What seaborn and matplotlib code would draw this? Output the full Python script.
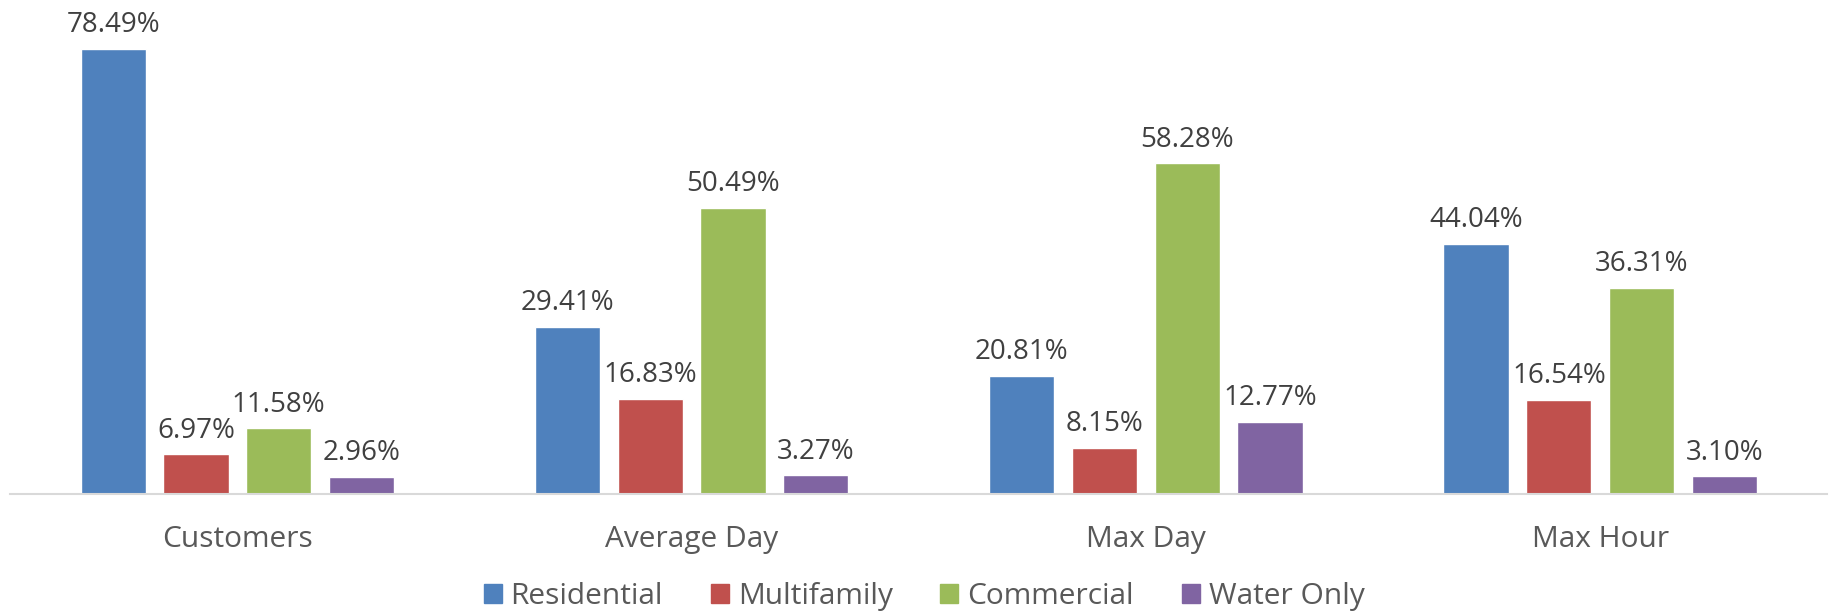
import pandas as pd
import seaborn as sns
import matplotlib.pyplot as plt

categories = ["Customers", "Average Day", "Max Day", "Max Hour"]
series = ["Residential", "Multifamily", "Commercial", "Water Only"]
residential = [78.49, 29.41, 20.81, 44.04]
multifamily = [6.97, 16.83, 8.15, 16.54]
commercial = [11.58, 50.49, 58.28, 36.31]
water_only = [2.96, 3.27, 12.77, 3.10]

colors = ["#4F81BD", "#C0504D", "#9BBB59", "#8064A2"]
value_color = "#404040"
axis_text_color = "#595959"

sns.set_style("white")
plt.rcParams["font.family"] = ["Open Sans", "DejaVu Sans"]

# Long-format tabel za seaborn
rows = []
for name, vals in zip(series, [residential, multifamily, commercial, water_only]):
    for cat, v in zip(categories, vals):
        rows.append({"category": cat, "series": name, "value": v})
df = pd.DataFrame(rows)

fig = plt.figure(figsize=(18.31, 6.11), dpi=100)
ax = fig.add_axes([0.0055, 0.1915, 0.9925, 0.8085])

sns.barplot(data=df, x="category", y="value", hue="series", order=categories,
            hue_order=series, palette=colors, width=0.728, gap=0.21,
            saturation=1, ax=ax, legend=False)

for cont in ax.containers:
    ax.bar_label(cont, labels=[f"{v:.2f}%" for v in cont.datavalues],
                 padding=7, fontsize=20, color=value_color)

ax.set_ylim(0, 87.1)
ax.set_xlim(-0.5, 3.5)
ax.set_xlabel("")
ax.set_ylabel("")
ax.set_yticks([])
for s in ["top", "left", "right"]:
    ax.spines[s].set_visible(False)
ax.spines["bottom"].set_color("#d9d9d9")
ax.spines["bottom"].set_linewidth(1.5)
ax.tick_params(axis="x", length=0, pad=22, labelsize=21.5, labelcolor=axis_text_color)

# Legenda spodaj
handles = [plt.Rectangle((0, 0), 1, 1, color=c) for c in colors]
fig.legend(handles, series, loc="center", ncol=4, frameon=False,
           fontsize=21.5, labelcolor=axis_text_color, handlelength=0.6, handleheight=0.6,
           handletextpad=0.3, columnspacing=1.6, bbox_to_anchor=(0.5047, 0.023))

fig.savefig("out.png", dpi=100)
